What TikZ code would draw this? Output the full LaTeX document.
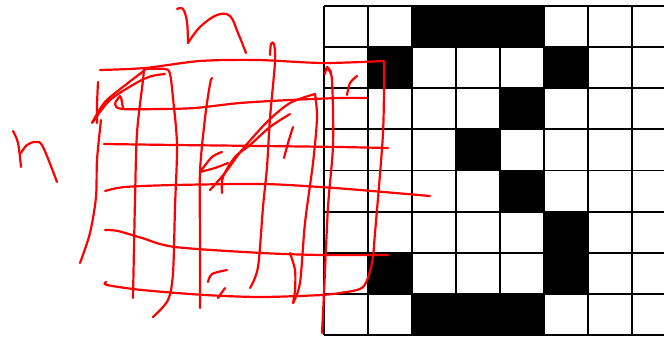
\documentclass[tikz,border=0pt]{standalone}
\usepackage{tikz}
\usepackage{xcolor}
\definecolor{penred}{RGB}{255,0,0}
\definecolor{pixink}{RGB}{0,0,0}
\newcommand{\cw}{44}
\newcommand{\ch}{41.125}

\begin{document}
\begin{tikzpicture}[
      x=1pt, y=-1pt,
      gridline/.style={draw=pixink, line width=1.8pt},
      pix/.style={fill=pixink},
      ink/.style={draw=penred, line width=2.2pt, line cap=round, line join=round}
    ]
    \useasboundingbox[fill=white] (0,0) rectangle (664,339);
    \begin{scope}
      \clip (0,0) rectangle (664,339);
      \foreach \c/\r in {2/0,3/0,4/0,1/1,5/1,4/2,3/3,4/4,5/5,1/6,5/6,2/7,3/7,4/7}
        \fill[pix] (324+\cw*\c, 6+\ch*\r) rectangle ++(\cw,\ch);
      \foreach \c in {0,...,8}
        \draw[gridline] (324+\cw*\c, 6) -- (324+\cw*\c, 335);
      \foreach \r in {0,...,8}
        \draw[gridline] (324, 6+\ch*\r) -- (680, 6+\ch*\r);
    \end{scope}
    % letters
    \draw[ink] plot[smooth, tension=0.6] coordinates {(177,9) (183,9) (187,22) (188,43)};
    \draw[ink] plot[smooth, tension=0.6] coordinates {(188,43) (200,27) (217,15) (230,16) (238,33) (246,53)};
    \draw[ink] plot[smooth, tension=0.6] coordinates {(13,131) (18,143) (21,167)};
    \draw[ink] plot[smooth, tension=0.6] coordinates {(21,153) (27,145) (36,142) (43,147) (57,182)};
    % sketched grid, rows
    \draw[ink] plot[smooth, tension=0.5] coordinates {(100,70) (145,68) (200,61) (257,60) (323,63) (384,61)};
    \draw[ink] plot[smooth, tension=0.5] coordinates {(120,96) (115,104) (122,109) (160,109) (195,108) (240,103) (290,100) (340,98) (367,98)};
    \draw[ink] (121,97) -- (123,108);
    \draw[ink] plot[smooth, tension=0.5] coordinates {(104,144) (175,145) (262,146) (338,147) (388,148)};
    \draw[ink] plot[smooth, tension=0.5] coordinates {(105,191) (125,187) (175,185) (262,184) (320,187) (360,190) (430,196)};
    \draw[ink] plot[smooth, tension=0.5] coordinates {(105,230) (118,231) (142,238) (175,247) (262,253) (322,255) (388,255)};
    \draw[ink] plot[smooth, tension=0.5] coordinates {(106,282) (107,285) (142,290) (205,295) (262,297) (323,295)};
    \draw[ink] plot[smooth, tension=0.5] coordinates {(384,62) (383,133) (375,233) (372,263) (363,287) (340,293) (322,295)};
    % sketched grid, columns
    \draw[ink] plot[smooth, tension=0.5] coordinates {(98,82) (97,105) (97,123)};
    \draw[ink] plot[smooth, tension=0.5] coordinates {(101,120) (97,160) (96,197) (90,233) (80,263)};
    \draw[ink] plot[smooth, tension=0.5] coordinates {(144,68) (143,80) (137,133) (135,200) (133,298)};
    \draw[ink] plot[smooth, tension=0.5] coordinates {(145,69) (165,69) (170,74) (173,98) (177,145) (175,207) (173,273) (168,300) (153,317)};
    \draw[ink] plot[smooth, tension=0.5] coordinates {(212,78) (210,84) (205,118) (200,172) (200,240) (200,308)};
    \draw[ink] plot[smooth, tension=0.5] coordinates {(270,55) (271,44) (274,44) (275,62) (270,118) (267,167) (263,207) (258,267) (250,288)};
    \draw[ink] plot[smooth, tension=0.5] coordinates {(315,94) (317,118) (313,163) (305,223) (300,283) (293,303)};
    \draw[ink] plot[smooth, tension=0.5] coordinates {(328,70) (332,80) (333,145) (328,207) (324,293) (322,333)};
    % strokes across it
    \draw[ink] plot[smooth, tension=0.5] coordinates {(92,123) (105,102) (128,83) (145,70)};
    \draw[ink] plot[smooth, tension=0.5] coordinates {(93,122) (110,100) (138,82) (152,76) (165,74)};
    \draw[ink] plot[smooth, tension=0.5] coordinates {(210,190) (225,173) (242,150) (267,122) (290,103) (315,94)};
    \draw[ink] plot[smooth, tension=0.5] coordinates {(222,193) (223,177) (235,157) (250,145) (270,127) (290,114)};
    \draw[ink] plot[smooth, tension=0.5] coordinates {(200,172) (212,157) (222,152)};
    \draw[ink] plot[smooth, tension=0.5] coordinates {(200,172) (215,168) (228,163)};
    \draw[ink] plot[smooth, tension=0.5] coordinates {(293,127) (288,143) (284,158)};
    \draw[ink] plot[smooth, tension=0.5] coordinates {(208,282) (212,274) (227,270)};
    \draw[ink] (225,288) -- (218,298);
    \draw[ink] plot[smooth, tension=0.5] coordinates {(290,253) (295,270) (295,290) (293,303)};
    \draw[ink] plot[smooth, tension=0.5] coordinates {(325,74) (327,67) (331,72)};
    \draw[ink] plot[smooth, tension=0.5] coordinates {(347,95) (350,83) (357,76)};
  \end{tikzpicture}
\end{document}
